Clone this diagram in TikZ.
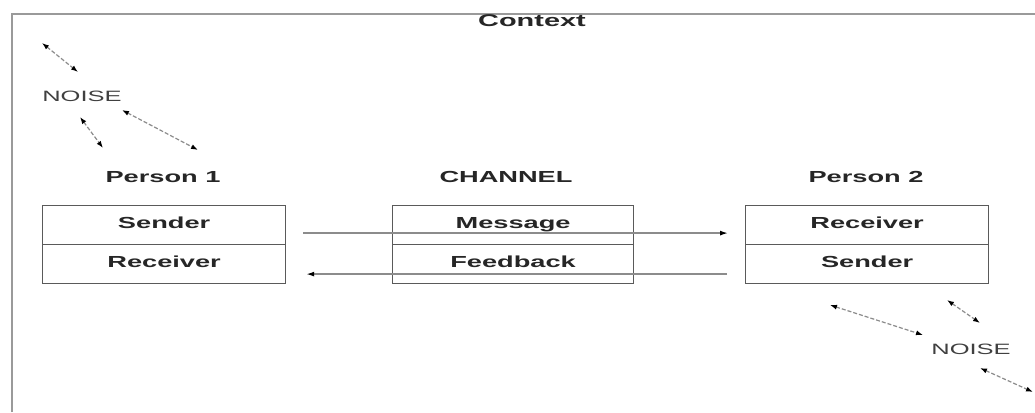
\documentclass[tikz,border=0pt]{standalone}
\usepackage{fontspec}
\setmainfont{Liberation Sans}
\usetikzlibrary{arrows.meta}
\definecolor{framegray}{HTML}{9A9A9A}
\definecolor{boxgray}{HTML}{5A5A5A}
\definecolor{linegray}{HTML}{8C8C8C}
\begin{document}
\begin{tikzpicture}[x=1pt,y=-1pt,
  lbl/.style={font=\fontsize{16}{18}\selectfont\bfseries, text=black!85, xscale=1.7, inner sep=0pt},
  noisetxt/.style={font=\fontsize{15}{17}\selectfont, text=black!75, xscale=1.7, inner sep=0pt},
  cell/.style={draw=boxgray, line width=1.2pt, minimum width=243pt, minimum height=39pt, inner sep=0pt, anchor=north west,
    font=\fontsize{16}{18}\selectfont\bfseries, text=black!85},
  flow/.style={draw=linegray, line width=1.4pt, -{Latex[length=8pt,width=5pt,fill=black,black]}},
  noise/.style={draw=linegray, line width=1.2pt, dash pattern=on 4pt off 2pt,
    {Latex[length=7pt,width=5pt,fill=black,black]}-{Latex[length=7pt,width=5pt,fill=black,black]}},
  frame/.style={draw=framegray, line width=2pt}
]
\useasboundingbox (0,0) rectangle (1035,412);
\fill[white] (0,0) rectangle (1035,412);

% frame
\coordinate (ftl) at (12,14);
\coordinate (ftr) at (1035,14);
\coordinate (fbl) at (12,412);
\draw[frame] (fbl) -- (ftl) -- (ftr);
\node[lbl, font=\fontsize{17}{19}\selectfont\bfseries] (context) at (532,21) {Context};

% headings
\node[lbl] (h1) at (163,177) {Person 1};
\node[lbl] (hc) at (506,177) {CHANNEL};
\node[lbl] (h2) at (866,177) {Person 2};

% boxes
\node[cell] (p1s) at (42,205) {\raisebox{4pt}{\scalebox{1.7}[1]{Sender}}};
\node[cell] (p1r) at (42,244) {\raisebox{4pt}{\scalebox{1.7}[1]{Receiver}}};
\node[cell, minimum width=241pt] (cm) at (392,205) {\raisebox{4pt}{\scalebox{1.7}[1]{Message}}};
\node[cell, minimum width=241pt] (cf) at (392,244) {\raisebox{4pt}{\scalebox{1.7}[1]{Feedback}}};
\node[cell] (p2r) at (745,205) {\raisebox{4pt}{\scalebox{1.7}[1]{Receiver}}};
\node[cell] (p2s) at (745,244) {\raisebox{4pt}{\scalebox{1.7}[1]{Sender}}};

% flows
\draw[flow, shorten <=17pt, shorten >=17pt] ([yshift=-8pt]p1s.east) -- ([yshift=-8pt]p2r.west);
\draw[flow, shorten <=18pt, shorten >=20pt] ([yshift=-10pt]p2s.west) -- ([yshift=-10pt]p1r.east);

% noise top-left
\node[noisetxt] (n1) at (82,96) {NOISE};
\coordinate (a1) at (42,43);  \coordinate (b1) at (78,72);
\coordinate (a2) at (80,117); \coordinate (b2) at (103,148);
\coordinate (a3) at (122,110); \coordinate (b3) at (198,150);
\draw[noise] (a1) -- (b1);
\draw[noise] (a2) -- (b2);
\draw[noise] (a3) -- (b3);

% noise bottom-right
\node[noisetxt] (n2) at (971,349) {NOISE};
\coordinate (c1) at (830,305); \coordinate (d1) at (923,335);
\coordinate (c2) at (947,300); \coordinate (d2) at (980,323);
\coordinate (c3) at (980,368); \coordinate (d3) at (1033,392);
\draw[noise] (c1) -- (d1);
\draw[noise] (c2) -- (d2);
\draw[noise] (c3) -- (d3);
\end{tikzpicture}
\end{document}
